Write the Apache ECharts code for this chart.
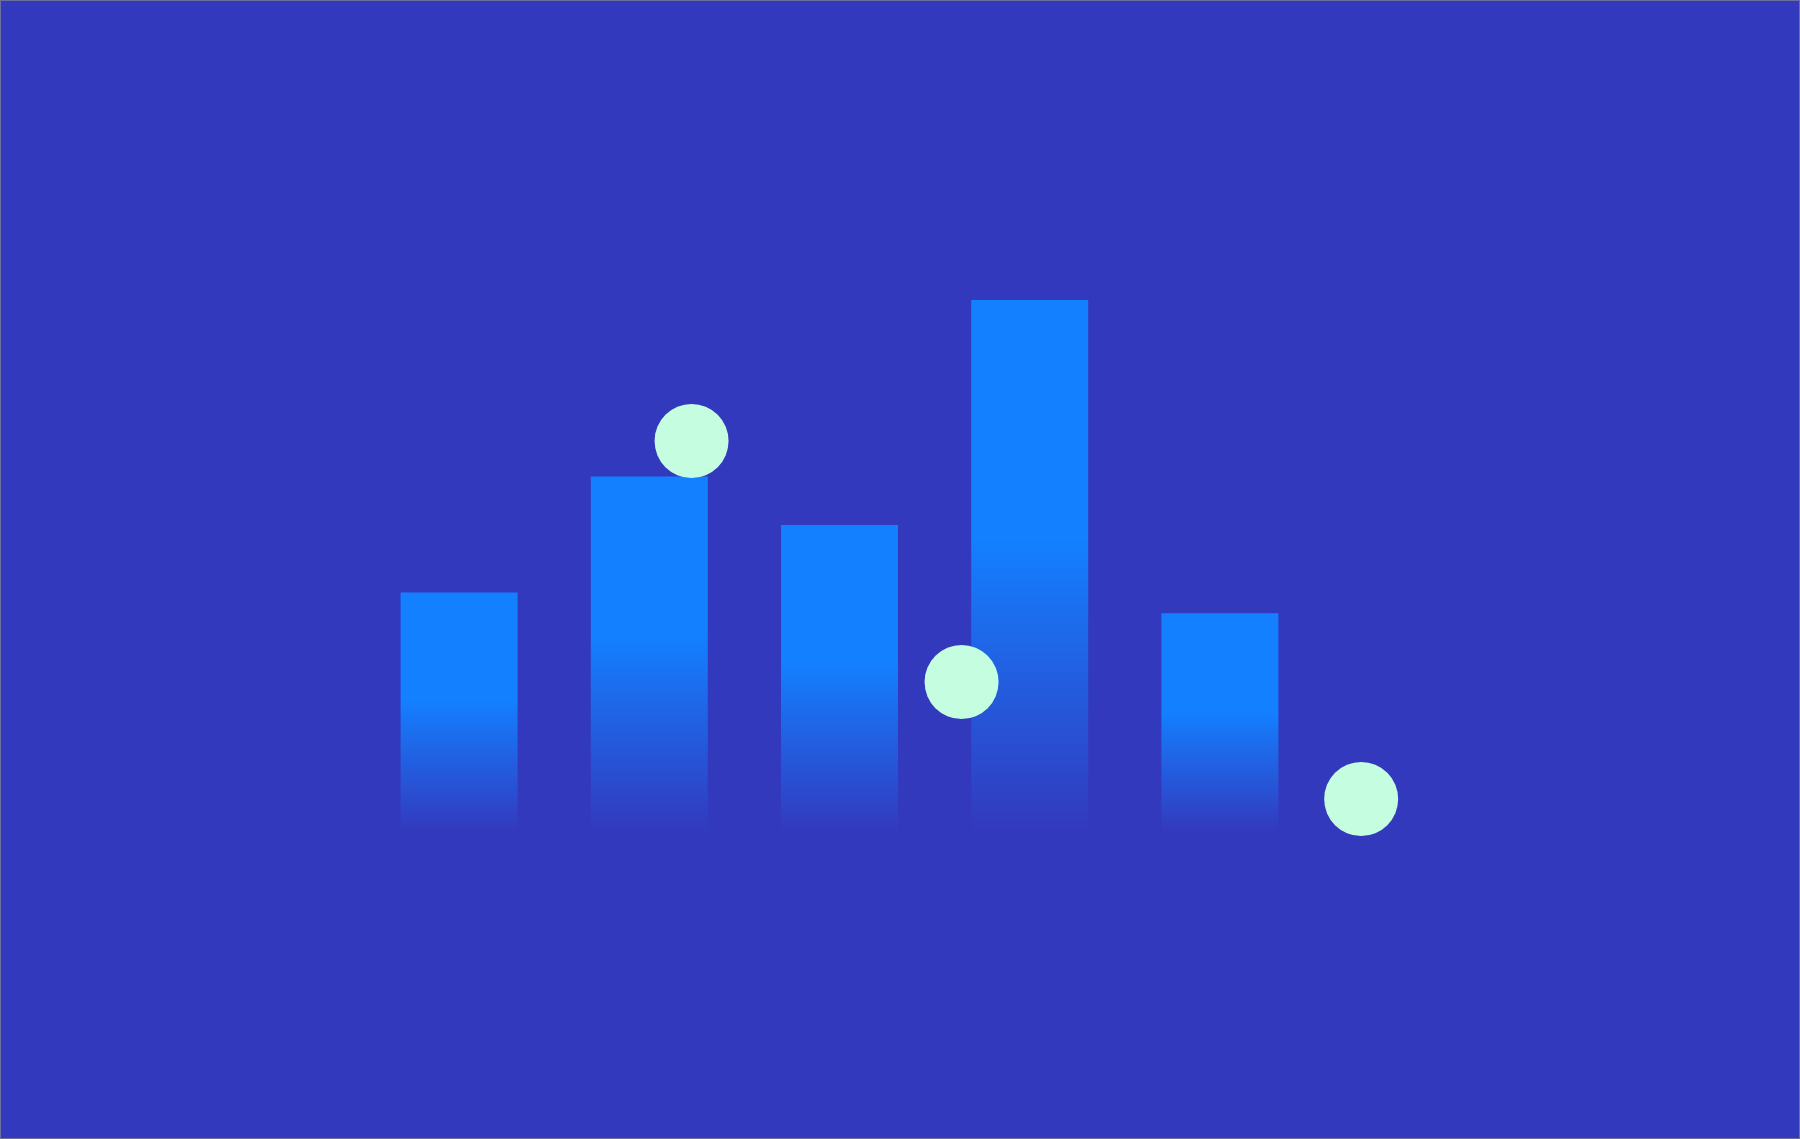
<!DOCTYPE html>
<html lang="en">

<head>
    <meta charset="UTF-8">
    <title>Bars and dots</title>
    <script src="https://cdn.jsdelivr.net/npm/echarts@6/dist/echarts.min.js"></script>
    <style>
        html,
        body {
            margin: 0;
            padding: 0;
            background: #3339bd;
        }

        #main {
            width: 1798px;
            height: 1137px;
            border: 1px solid #6c6f9c;
        }
    </style>
</head>

<body>
    <div id="main"></div>
    <script>
        var categories = ['A', 'B', 'C', 'D', 'E'];
        var barValues = [45, 66.8, 57.7, 100, 41.1];

        // dots live on their own value grid (x 0-100)
        var dotX = [30.7, 55.7, 92.7];
        var dotY = [73.5, 28.2, 6.2];

        var dots = [];
        for (var i = 0; i < dotX.length; i++) {
            dots.push([dotX[i], dotY[i]]);
        }

        var myChart = echarts.init(document.getElementById('main'));

        var option = {
            backgroundColor: '#3339bd',
            animation: false,
            grid: [{ // bars
                left: 363,
                right: 484,
                top: 299,
                bottom: 306
            }, { // dots
                left: 359,
                right: 359,
                top: 299,
                bottom: 306
            }],
            xAxis: [{
                type: 'category',
                gridIndex: 0,
                data: categories,
                show: false
            }, {
                type: 'value',
                gridIndex: 1,
                min: 0,
                max: 100,
                show: false
            }],
            yAxis: [{
                type: 'value',
                gridIndex: 0,
                min: 0,
                max: 100,
                show: false
            }, {
                type: 'value',
                gridIndex: 1,
                min: 0,
                max: 100,
                show: false
            }],
            series: [{
                type: 'bar',
                xAxisIndex: 0,
                yAxisIndex: 0,
                barWidth: '61.5%',
                itemStyle: {
                    color: new echarts.graphic.LinearGradient(0, 0, 0, 1, [
                        { offset: 0, color: '#1380ff' },
                        { offset: 0.45, color: '#1380ff' },
                        { offset: 1, color: 'rgba(19,128,255,0)' }
                    ])
                },
                data: barValues
            }, {
                type: 'scatter',
                xAxisIndex: 1,
                yAxisIndex: 1,
                symbol: 'circle',
                symbolSize: 74,
                itemStyle: {
                    color: '#c5fde0',
                    opacity: 1
                },
                z: 3,
                data: dots
            }]
        };

        myChart.setOption(option);
    </script>
</body>

</html>
